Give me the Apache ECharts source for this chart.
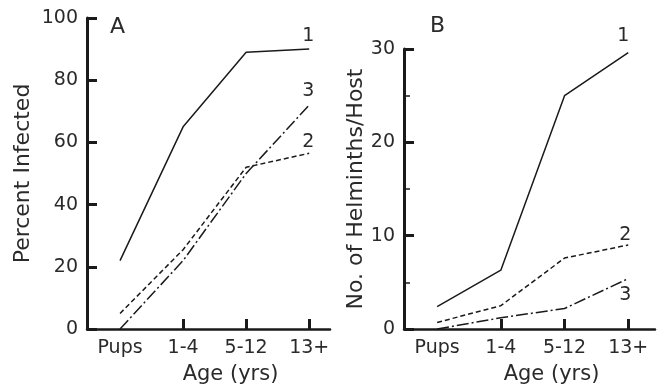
<!DOCTYPE html>
<html>
<head>
<meta charset="utf-8">
<script src="https://cdn.jsdelivr.net/npm/echarts@6/dist/echarts.min.js"></script>
<style>
  html, body {margin: 0; padding: 0; background: #fff;}
  #chart {width: 662px; height: 390px;}
</style>
</head>
<body>
<div id="chart"></div>
<script>
const ageGroups = ["Pups", "1-4", "5-12", "13+"];
const lineNames = ["1", "2", "3"];

// A: percent infected
const pctLine1 = [22, 65, 89, 90];
const pctLine2 = [5, 25.5, 52, 56.5];
const pctLine3 = [0, 22, 50, 72];

// B: helminths per host
const helLine1 = [2.4, 6.3, 25, 29.6];
const helLine2 = [0.7, 2.5, 7.6, 9.0];
const helLine3 = [0, 1.2, 2.2, 5.4];

const pctTicks = [0, 20, 40, 60, 80, 100];
const helTicks = [0, 10, 20, 30];

const ink = "#1a1a1a";
const textCol = "#2a2a2a";
const font = "DejaVu Sans";

const styles = [
  {type: "solid"},
  {type: [5, 3]},
  {type: [12, 3, 2, 3]},
];

// label offsets for the curve numbers at line ends
const endOffsets = [
  [[-1, -13], [-1, -11], [-1, -14]],
  [[-5, -17], [-3, -10], [-3, 16]],
];

function makeSeries(values, idx, panel) {
  const data = values.map((v, i) => {
    const item = {value: [i, v]};
    if (i === values.length - 1) {
      item.label = {
        show: true,
        formatter: lineNames[idx],
        position: "inside",
        offset: endOffsets[panel][idx],
        fontSize: 19,
        fontFamily: font,
        color: textCol,
      };
    }
    return item;
  });
  return {
    type: "line",
    xAxisIndex: panel,
    yAxisIndex: panel,
    data: data,
    symbol: "circle",
    symbolSize: 0,
    showSymbol: true,
    silent: true,
    lineStyle: {color: ink, width: 1.5, type: styles[idx].type},
  };
}

function xAxisOpt(grid, min, max, padLeft) {
  return {
    type: "value",
    gridIndex: grid,
    min: min,
    max: max,
    name: "Age (yrs)",
    nameLocation: "middle",
    nameGap: 35,
    nameTextStyle: {fontSize: 21, fontFamily: font, color: textCol, padding: [0, 0, 0, padLeft]},
    splitLine: {show: false},
    axisLine: {show: true, onZero: false, lineStyle: {color: ink, width: 2.5}},
    axisTick: {show: true, inside: true, length: 10, customValues: [1, 2, 3], lineStyle: {color: ink, width: 3}},
    axisLabel: {
      show: true,
      customValues: [0, 1, 2, 3],
      formatter: v => ageGroups[Math.round(v)],
      margin: 10,
      fontSize: 19,
      fontFamily: font,
      color: textCol,
    },
  };
}

function yAxisOpt(grid, ticks, name, gap, minor) {
  return {
    type: "value",
    gridIndex: grid,
    min: ticks[0],
    max: ticks[ticks.length - 1],
    interval: ticks[1] - ticks[0],
    name: name,
    nameLocation: "middle",
    nameGap: gap,
    nameTextStyle: {fontSize: 22, fontFamily: font, color: textCol},
    splitLine: {show: false},
    axisLine: {show: true, onZero: false, lineStyle: {color: ink, width: 3}},
    axisTick: {show: true, inside: true, length: 10, lineStyle: {color: ink, width: 3}},
    minorTick: {show: minor, splitNumber: 2, length: 6, lineStyle: {color: ink, width: 1.5}},
    axisLabel: {margin: 9, fontSize: 19, fontFamily: font, color: textCol},
  };
}

const chart = echarts.init(document.getElementById("chart"), null, {renderer: "canvas"});
chart.setOption({
  animation: false,
  backgroundColor: "#fff",
  title: [
    {text: "A", left: 105, top: 11, textStyle: {fontSize: 22, fontWeight: "normal", fontFamily: font, color: textCol}},
    {text: "B", left: 425, top: 10, textStyle: {fontSize: 22, fontWeight: "normal", fontFamily: font, color: textCol}},
  ],
  grid: [
    {left: 87, top: 18, width: 243, height: 312},
    {left: 404, top: 49, width: 251, height: 283},
  ],
  xAxis: [
    xAxisOpt(0, -0.524, 3.33, 44),
    xAxisOpt(1, -0.52, 3.42, 44),
  ],
  yAxis: [
    yAxisOpt(0, pctTicks, "Percent Infected", 53, false),
    yAxisOpt(1, helTicks, "No. of Helminths/Host", 37, true),
  ],
  series: [
    makeSeries(pctLine1, 0, 0),
    makeSeries(pctLine2, 1, 0),
    makeSeries(pctLine3, 2, 0),
    makeSeries(helLine1, 0, 1),
    makeSeries(helLine2, 1, 1),
    makeSeries(helLine3, 2, 1),
  ],
});
</script>
</body>
</html>
